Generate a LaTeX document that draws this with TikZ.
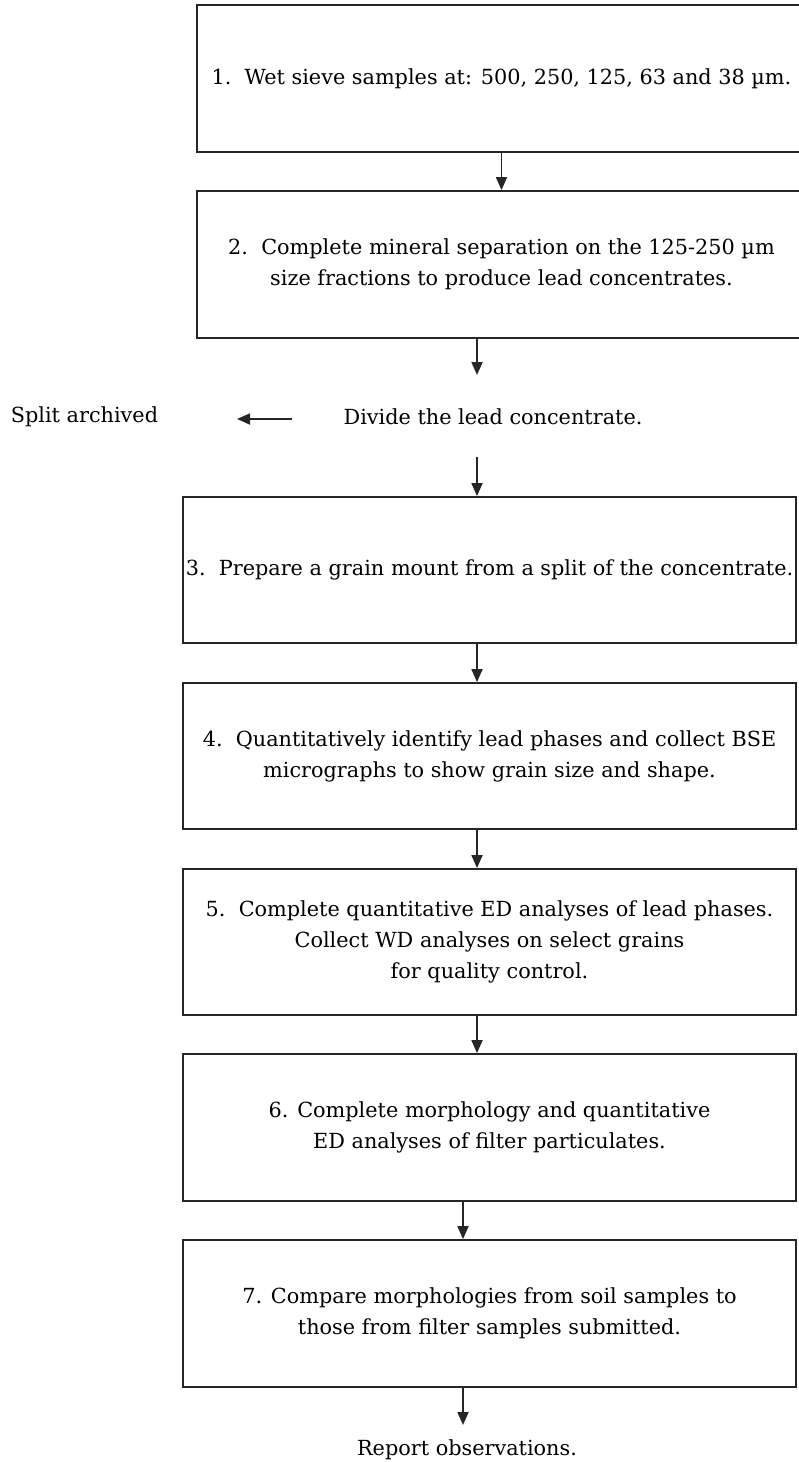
\documentclass[tikz,border=0pt]{standalone}
\usepackage{fontspec}
\setmainfont{DejaVu Serif}
\usetikzlibrary{arrows.meta,calc}
\begin{document}
\begin{tikzpicture}[x=1pt,y=-1pt,
  txt/.style={font=\fontsize{20.8}{31}\selectfont},
  stepbox/.style={draw=black!85, line width=1.8pt, inner sep=0pt, align=center, txt},
  lbl/.style={inner sep=0pt, txt},
  arr/.style={line width=1.8pt, draw=black!85, -{Triangle[width=11pt,length=13pt]}}]
\useasboundingbox[fill=white] (0,0) rectangle (799,1462);
% boxes
\node[stepbox, minimum width=609pt, minimum height=147pt] (b1) at (501.5,78.5)
  {1.\ \ Wet sieve samples at: 500, 250, 125, 63 and 38 µm.};
\node[stepbox, minimum width=609pt, minimum height=147pt] (b2) at (501.5,264.5)
  {2.\ \ Complete mineral separation on the 125-250 µm\\size fractions to produce lead concentrates.};
\node[stepbox, minimum width=613pt, minimum height=146pt] (b3) at (489.5,570)
  {3.\ \ Prepare a grain mount from a split of the concentrate.};
\node[stepbox, minimum width=613pt, minimum height=146pt] (b4) at (489.5,756)
  {4.\ \ Quantitatively identify lead phases and collect BSE\\micrographs to show grain size and shape.};
\node[stepbox, minimum width=613pt, minimum height=146pt] (b5) at (489.5,942)
  {5.\ \ Complete quantitative ED analyses of lead phases.\\Collect WD analyses on select grains\\for quality control.};
\node[stepbox, minimum width=613pt, minimum height=147pt] (b6) at (489.5,1127.5)
  {6. Complete morphology and quantitative\\ED analyses of filter particulates.};
\node[stepbox, minimum width=613pt, minimum height=147pt] (b7) at (489.5,1313.5)
  {7. Compare morphologies from soil samples to\\those from filter samples submitted.};
% free labels
\node[lbl] (divide) at (493,417) {Divide the lead concentrate.};
\node[lbl] (split) at (84.5,417) {Split archived};
\node[lbl] (report) at (467,1450) {Report observations.};
% helper coordinates
\coordinate (ax) at (477,0);
\coordinate (bx) at (463,0);
\coordinate (t2) at (477,375);
\coordinate (s3) at (477,457);
\coordinate (la) at (292,419);
\coordinate (lb) at (237,419);
\coordinate (t7) at (463,1425);
% connectors
\draw[arr] (b1.south) -- (b2.north);
\draw[arr] (b2.south -| t2) -- (t2);
\draw[arr] (la) -- (lb);
\draw[arr] (s3) -- (b3.north -| s3);
\draw[arr] (b3.south -| ax) -- (b4.north -| ax);
\draw[arr] (b4.south -| ax) -- (b5.north -| ax);
\draw[arr] (b5.south -| ax) -- (b6.north -| ax);
\draw[arr] (b6.south -| bx) -- (b7.north -| bx);
\draw[arr] (b7.south -| t7) -- (t7);
\end{tikzpicture}
\end{document}
